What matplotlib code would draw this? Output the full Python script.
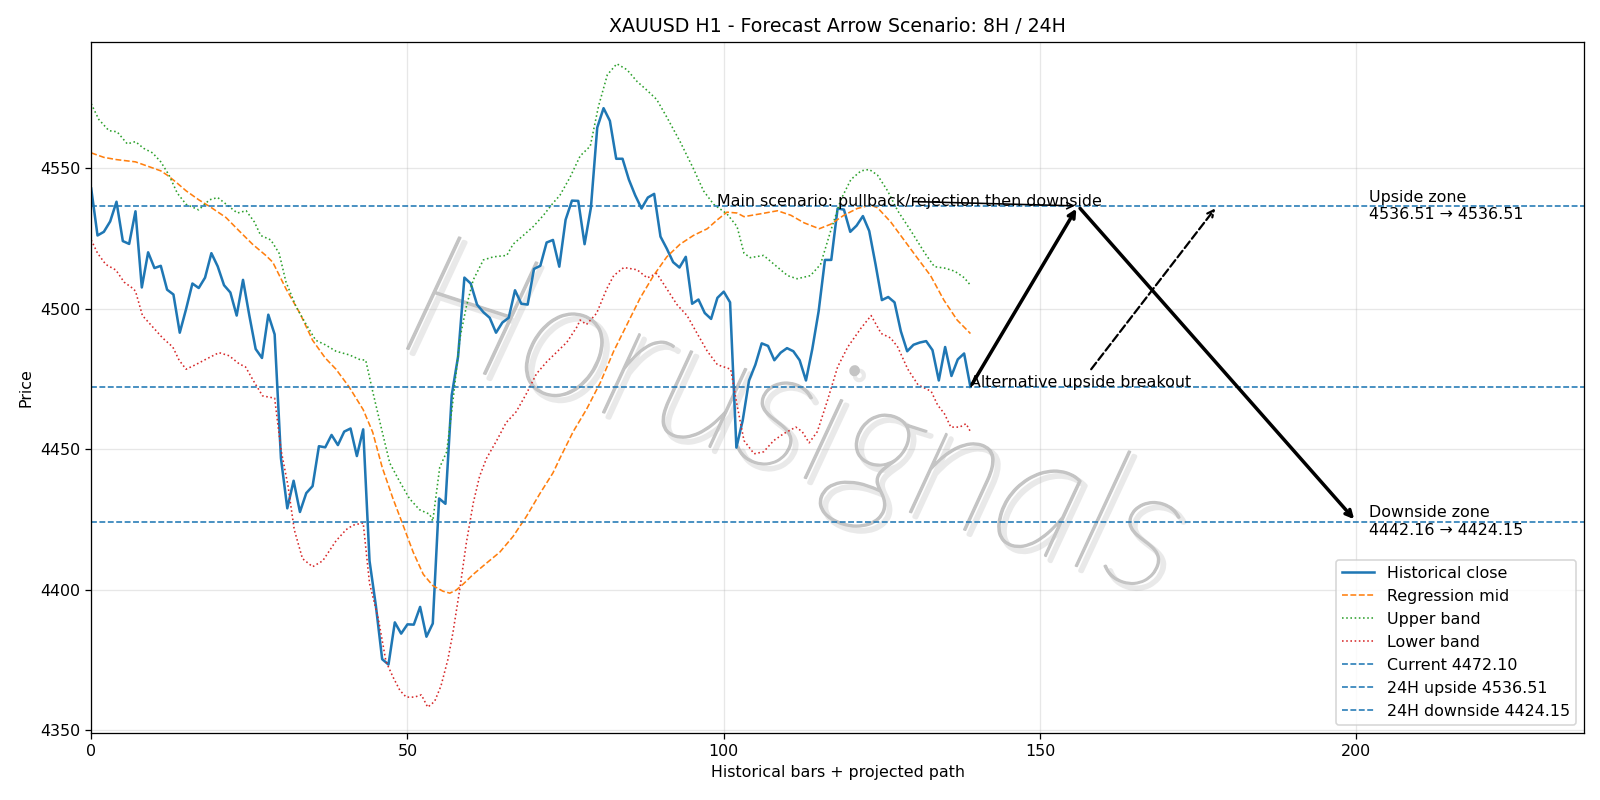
import numpy as np
import matplotlib
matplotlib.use("Agg")
import matplotlib.pyplot as plt
import matplotlib.patheffects as pe

# historical close, one value per H1 bar (0..139)
close = [
    4542.7, 4526.0, 4527.3, 4531.0, 4538.0, 4524.0, 4523.0, 4534.6, 4507.5, 4520.0,
    4514.4, 4515.2, 4506.7, 4505.0, 4491.4, 4499.8, 4508.9, 4507.3, 4511.0, 4519.7,
    4515.0, 4508.3, 4505.7, 4497.5, 4510.2, 4497.5, 4485.6, 4482.4, 4497.8, 4490.8,
    4446.7, 4428.9, 4438.7, 4427.6, 4434.3, 4436.8, 4451.0, 4450.6, 4455.0, 4451.4,
    4456.2, 4457.3, 4447.5, 4457.0, 4410.2, 4394.3, 4375.2, 4373.3, 4388.3, 4384.3,
    4387.6, 4387.5, 4393.8, 4383.2, 4387.9, 4432.4, 4430.5, 4469.2, 4482.9, 4511.0,
    4508.9, 4501.4, 4498.7, 4496.7, 4491.4, 4495.0, 4496.7, 4506.5, 4501.7, 4501.4,
    4514.1, 4515.2, 4523.5, 4524.4, 4514.9, 4531.6, 4538.4, 4538.3, 4522.9, 4535.9,
    4564.4, 4571.3, 4566.8, 4553.3, 4553.3, 4545.9, 4540.3, 4535.6, 4539.5, 4540.8,
    4525.6, 4521.3, 4516.5, 4514.6, 4518.4, 4501.7, 4503.2, 4498.4, 4496.3, 4503.8,
    4506.0, 4502.2, 4450.5, 4460.2, 4474.4, 4480.0, 4487.6, 4486.7, 4481.6, 4484.3,
    4485.9, 4484.8, 4481.6, 4474.4, 4485.6, 4499.0, 4517.3, 4517.3, 4535.6, 4535.2,
    4527.3, 4529.5, 4532.9, 4527.6, 4515.7, 4503.0, 4504.1, 4502.2, 4491.9, 4484.8,
    4487.1, 4487.9, 4488.4, 4485.2, 4474.4, 4486.3, 4476.0, 4481.9, 4484.0, 4472.1,
]

mid_pts = [
    (0, 4555.4), (2, 4553.8), (4, 4553.0), (7, 4552.2), (9, 4550.6), (11, 4549.0),
    (12, 4547.5), (13.4, 4545.0), (15, 4541.9), (17, 4538.7), (19, 4535.9), (21.3, 4532.4),
    (23.4, 4527.6), (25.5, 4522.9), (27.6, 4518.9), (28.7, 4516.5), (30.8, 4507.0),
    (33, 4498.3), (35, 4488.7), (37, 4482.4), (38.7, 4478.4), (40.8, 4472.0), (43, 4464.0),
    (44.5, 4456.0), (46, 4443.5), (47.7, 4432.4), (49.3, 4422.9), (50.9, 4413.3),
    (52.5, 4405.4), (54, 4401.4), (55.6, 4399.4), (56.7, 4398.7), (57.7, 4399.8),
    (58.8, 4401.9), (60.4, 4405.4), (62.5, 4409.4), (64.6, 4413.3), (66.7, 4418.9),
    (68.8, 4426.0), (70.9, 4434.0), (73, 4441.5), (74.1, 4446.7), (76.2, 4456.2),
    (78.3, 4464.1), (80.5, 4473.7), (82.6, 4484.8), (84.7, 4494.3), (86.8, 4503.8),
    (88.9, 4511.7), (91, 4518.4), (93.1, 4522.9), (95.2, 4526.0), (97.4, 4528.4),
    (99, 4531.6), (100.5, 4534.3), (102.1, 4534.0), (103.2, 4532.7), (105.8, 4533.7),
    (108.5, 4534.8), (110.6, 4533.2), (112.7, 4530.5), (115.1, 4528.4), (116.9, 4530.0),
    (119, 4533.2), (121.1, 4535.6), (123.2, 4536.8), (124.3, 4535.9), (126.4, 4530.8),
    (128.5, 4524.4), (130.6, 4518.0), (132.7, 4511.7), (134.8, 4503.0), (136.9, 4495.9),
    (139, 4491.1),
]

upper_pts = [
    (0, 4572.9), (1.2, 4567.3), (2.8, 4563.3), (4.1, 4562.9), (5.7, 4558.6), (7, 4559.4),
    (8.3, 4557.0), (9.7, 4555.4), (11, 4552.2), (12.3, 4547.5), (13.6, 4541.1), (15, 4537.1),
    (17, 4535.1), (18.7, 4538.7), (20, 4539.5), (21.8, 4536.3), (23.1, 4534.0), (24.5, 4534.8),
    (25.8, 4530.8), (26.8, 4526.0), (28.4, 4524.4), (29.7, 4519.7), (30.8, 4509.4),
    (32.4, 4500.6), (34, 4494.3), (35.5, 4488.7), (37, 4487.1), (38.7, 4484.8), (40.8, 4483.5),
    (42.4, 4481.9), (43.4, 4481.6), (44.5, 4470.5), (46, 4456.2), (47.2, 4445.0),
    (48.7, 4438.7), (50.3, 4432.4), (51.9, 4428.4), (53.5, 4426.8), (54, 4424.4),
    (55.1, 4443.5), (56.2, 4449.0), (57.2, 4467.3), (58.3, 4489.5), (59.3, 4500.6),
    (60.4, 4510.2), (62, 4517.3), (63.6, 4518.4), (65.7, 4518.9), (66.7, 4522.9),
    (68.3, 4526.0), (69.9, 4529.2), (71.5, 4533.2), (73, 4537.5), (74.1, 4540.3),
    (75.7, 4546.7), (77.3, 4554.3), (78.9, 4557.8), (80.2, 4572.0), (81.6, 4583.2),
    (83.1, 4587.1), (84.7, 4585.0), (86.3, 4580.8), (87.9, 4577.6), (89.4, 4574.4),
    (91, 4568.1), (93.1, 4559.4), (95.2, 4549.8), (96.8, 4541.9), (98.4, 4537.1),
    (100.5, 4533.7), (102.1, 4529.2), (103.2, 4519.7), (104.2, 4518.1), (106.3, 4518.9),
    (108.4, 4514.9), (110.1, 4511.7), (111.6, 4510.6), (113.7, 4511.7), (115.3, 4515.7),
    (116.9, 4527.6), (118.5, 4538.7), (120.1, 4545.9), (121.7, 4549.0), (123, 4549.5),
    (124.3, 4547.5), (125.9, 4541.9), (127.5, 4534.8), (129.6, 4527.6), (131.8, 4519.7),
    (133.3, 4514.9), (134.9, 4514.4), (136.5, 4513.3), (138, 4511.0), (139, 4508.3),
]

lower_pts = [
    (0, 4524.4), (1, 4519.7), (2.3, 4515.7), (3.9, 4513.7), (5.2, 4509.4), (6.5, 4507.3),
    (7, 4506.2), (8.1, 4497.5), (9.7, 4493.5), (11.3, 4489.5), (12.9, 4486.3), (13.9, 4481.6),
    (15, 4478.4), (16.5, 4480.0), (18.1, 4481.9), (20.2, 4484.3), (21.8, 4483.2),
    (23.4, 4480.3), (24.4, 4479.2), (25.8, 4473.7), (27.1, 4468.9), (29, 4468.1),
    (30, 4449.8), (31.1, 4437.1), (32.1, 4421.3), (33.4, 4411.0), (35, 4408.1),
    (36.6, 4410.2), (38.7, 4417.3), (40.3, 4421.3), (41.4, 4422.9), (43, 4423.7),
    (44, 4402.2), (45.4, 4389.5), (46.6, 4374.4), (47.7, 4368.9), (48.8, 4364.1),
    (49.8, 4361.7), (51.1, 4361.7), (52.2, 4362.5), (53.2, 4358.1), (54.3, 4360.2),
    (55.3, 4365.7), (56.4, 4375.2), (57.2, 4384.8), (58.3, 4400.6), (59.3, 4416.5),
    (60.4, 4430.8), (61.4, 4440.3), (62.5, 4446.7), (64.1, 4453.0), (65.6, 4459.4),
    (67.2, 4463.3), (68.8, 4469.7), (70.4, 4476.8), (72, 4481.0), (73.6, 4484.5),
    (75.2, 4488.0), (76.8, 4493.5), (77.3, 4495.9), (78.3, 4494.3), (79.9, 4498.3),
    (81.5, 4507.0), (82.6, 4511.7), (84.2, 4514.6), (86.3, 4513.8), (87.9, 4510.9),
    (89.4, 4512.5), (91, 4507.0), (92.6, 4501.4), (94.2, 4497.5), (95.8, 4491.1),
    (97.4, 4484.8), (99, 4480.0), (101.1, 4478.4), (102.1, 4465.7), (103.2, 4453.0),
    (104.8, 4448.3), (106.3, 4449.0), (107.9, 4453.0), (109.5, 4455.5), (111.4, 4457.8),
    (112.4, 4456.2), (113.5, 4452.2), (114.8, 4456.2), (116.4, 4467.3), (118, 4479.2),
    (119.6, 4486.3), (121.7, 4493.0), (123.3, 4497.5), (124.9, 4491.1), (126.4, 4489.5),
    (127.5, 4486.3), (129.1, 4478.4), (130.7, 4472.9), (132.8, 4470.5), (133.8, 4465.7),
    (134.9, 4462.5), (135.9, 4457.8), (137.3, 4457.8), (138.3, 4459.0), (139, 4456.2),
]

current = 4472.10
up_24h = 4536.51
down_24h = 4424.15
down_8h = 4442.16

# projected path points (bar index)
peak_bar = 156
target_bar = 200
alt_bar = 178

fig, ax = plt.subplots(figsize=(14, 7), dpi=1600 / 14)
fig.subplots_adjust(left=0.057, right=0.99, bottom=0.084, top=0.948)

x = np.arange(len(close))
ax.plot(x, close, color="C0", lw=1.6, label="Historical close")
mx, my = zip(*mid_pts)
ax.plot(mx, my, "--", color="C1", lw=1.0, label="Regression mid")
ux, uy = zip(*upper_pts)
ax.plot(ux, uy, ":", color="C2", lw=1.0, label="Upper band")
lx, ly = zip(*lower_pts)
ax.plot(lx, ly, ":", color="C3", lw=1.0, label="Lower band")

ax.axhline(current, ls="--", color="C0", lw=1.0, label=f"Current {current:.2f}")
ax.axhline(up_24h, ls="--", color="C0", lw=1.0, label=f"24H upside {up_24h:.2f}")
ax.axhline(down_24h, ls="--", color="C0", lw=1.0, label=f"24H downside {down_24h:.2f}")

last = len(close) - 1
# main scenario: up to upside zone, then down to downside zone
ax.annotate("", xy=(peak_bar, up_24h), xytext=(last, close[-1]),
            arrowprops=dict(arrowstyle="->", color="black", lw=2.2))
ax.annotate("", xy=(target_bar, down_24h), xytext=(peak_bar, up_24h),
            arrowprops=dict(arrowstyle="->", color="black", lw=2.2))
ax.annotate("Main scenario: pullback/rejection then downside",
            xy=(peak_bar, up_24h), xytext=(last - 40, up_24h),
            arrowprops=dict(arrowstyle="->", color="black", lw=1.0))
# alternative breakout
ax.annotate("Alternative upside breakout", xy=(alt_bar, up_24h), xytext=(last, current),
            arrowprops=dict(arrowstyle="->", color="black", lw=1.4, linestyle="--"))

ax.text(target_bar + 2, up_24h, f"Upside zone\n{up_24h:.2f} \u2192 {up_24h:.2f}", va="center")
ax.text(target_bar + 2, down_24h, f"Downside zone\n{down_8h:.2f} \u2192 {down_24h:.2f}", va="center")

# watermark: thin italic letters with a soft shadow
ax.text(0.47, 0.445, "Horusignals", transform=ax.transAxes, ha="center", va="center",
        fontsize=110, rotation=-18, style="italic", fontweight="light",
        family=["Lato", "Open Sans", "DejaVu Sans"],
        color="#c4c4c4", zorder=0,
        path_effects=[
            pe.SimpleLineShadow(offset=(3, -3), shadow_color="#b8b8b8", alpha=0.3, linewidth=2.6),
            pe.Stroke(linewidth=1.0, foreground="#c4c4c4"),
            pe.Normal(),
        ])

ax.set_xlim(0, 236)
ax.set_ylim(4349, 4595)
ax.grid(True, alpha=0.3)
ax.set_title("XAUUSD H1 - Forecast Arrow Scenario: 8H / 24H")
ax.set_xlabel("Historical bars + projected path")
ax.set_ylabel("Price")
ax.legend(loc="lower right")

plt.savefig("out.png")
